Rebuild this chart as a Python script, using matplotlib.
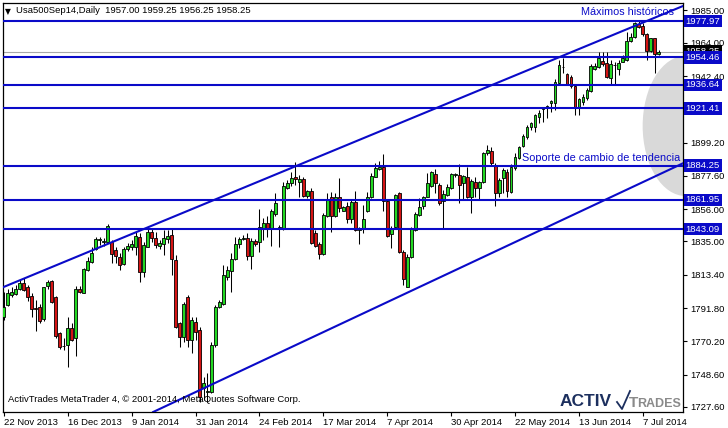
import matplotlib
matplotlib.use('Agg')
import matplotlib.pyplot as plt
import matplotlib.transforms as mtransforms
from matplotlib.patches import Ellipse
from matplotlib.lines import Line2D

plt.rcParams['font.family'] = ['Liberation Sans', 'DejaVu Sans']

# velas diarias
opens = [1785.7, 1793.7, 1800.4, 1800.9, 1803.9, 1808.2, 1805.2, 1799.6, 1791.6, 1792.2,
         1784.4, 1806.1, 1809.3, 1798.7, 1775.3, 1767.0, 1768.0, 1778.6, 1772.1, 1804.3,
         1801.7, 1816.5, 1821.9, 1829.9, 1836.0, 1834.5, 1834.9, 1834.9, 1829.5, 1825.1,
         1820.1, 1829.9, 1831.2, 1831.6, 1838.1, 1815.4, 1831.6, 1841.4, 1837.0, 1832.0,
         1833.1, 1836.4, 1839.4, 1823.0, 1781.8, 1772.7, 1799.1, 1771.0, 1782.9, 1777.5,
         1739.6, 1737.5, 1737.5, 1767.8, 1792.7, 1794.4, 1812.1, 1816.0, 1823.4, 1833.4,
         1836.6, 1837.0, 1825.6, 1835.3, 1834.9, 1842.9, 1847.2, 1843.3, 1852.8, 1844.0,
         1843.5, 1869.5, 1872.7, 1877.1, 1873.8, 1875.4, 1864.5, 1867.8, 1840.7, 1833.4,
         1826.9, 1851.5, 1864.0, 1851.5, 1863.7, 1855.0, 1858.0, 1849.6, 1860.6, 1842.4,
         1842.9, 1855.0, 1863.7, 1877.1, 1881.8, 1883.6, 1861.3, 1839.6, 1844.2, 1866.3,
         1827.9, 1805.6, 1824.7, 1842.4, 1852.2, 1858.0, 1864.1, 1871.2, 1878.6, 1871.7,
         1861.5, 1865.2, 1869.5, 1878.4, 1878.2, 1872.7, 1877.1, 1863.7, 1873.8, 1869.5,
         1873.8, 1892.7, 1894.0, 1884.6, 1866.7, 1876.0, 1880.3, 1867.3, 1882.5, 1889.0,
         1897.0, 1902.6, 1909.1, 1909.1, 1916.0, 1921.3, 1921.4, 1924.7, 1924.7, 1937.7,
         1948.0, 1943.5, 1941.8, 1935.9, 1922.5, 1925.8, 1927.9, 1932.7, 1946.8, 1948.1,
         1952.2, 1950.7, 1941.4, 1949.3, 1947.0, 1951.7, 1952.8, 1965.2, 1968.0, 1976.0,
         1975.1, 1969.5, 1958.7, 1966.9, 1957.00]
highs = [1802.4, 1803.9, 1805.2, 1806.7, 1810.0, 1811.1, 1806.7, 1801.3, 1797.0, 1794.4,
         1805.6, 1810.0, 1810.0, 1799.6, 1776.4, 1772.1, 1785.7, 1781.8, 1806.1, 1806.1,
         1817.5, 1825.1, 1831.6, 1837.7, 1837.7, 1837.0, 1846.3, 1835.9, 1831.6, 1827.3,
         1831.6, 1834.2, 1835.9, 1841.4, 1840.3, 1834.9, 1842.9, 1843.5, 1841.4, 1835.9,
         1842.4, 1842.4, 1842.9, 1826.2, 1782.9, 1795.9, 1800.2, 1786.2, 1786.2, 1779.7,
         1747.2, 1749.4, 1769.9, 1793.7, 1797.0, 1819.7, 1819.1, 1827.3, 1838.1, 1837.7,
         1839.2, 1840.3, 1837.0, 1836.4, 1855.9, 1850.0, 1851.5, 1855.9, 1866.3, 1845.7,
         1873.8, 1874.9, 1880.3, 1886.8, 1878.2, 1877.1, 1868.4, 1869.5, 1842.5, 1834.9,
         1853.3, 1866.3, 1866.8, 1866.7, 1876.0, 1858.0, 1860.8, 1862.3, 1868.0, 1844.2,
         1858.7, 1867.3, 1879.2, 1885.7, 1887.5, 1891.8, 1861.9, 1845.0, 1865.8, 1867.3,
         1829.5, 1826.9, 1844.2, 1854.3, 1863.0, 1864.5, 1879.7, 1880.5, 1881.8, 1872.7,
         1868.4, 1872.3, 1879.7, 1879.7, 1885.3, 1878.2, 1883.6, 1875.3, 1877.1, 1874.5,
         1893.3, 1897.6, 1896.1, 1885.7, 1876.0, 1882.5, 1881.8, 1885.3, 1892.2, 1897.0,
         1904.6, 1910.6, 1912.8, 1917.8, 1920.4, 1922.5, 1923.6, 1926.9, 1940.3, 1952.8,
         1953.9, 1944.2, 1943.1, 1936.6, 1928.4, 1930.5, 1934.4, 1950.0, 1950.7, 1958.2,
         1958.2, 1958.2, 1952.8, 1951.7, 1952.8, 1956.1, 1971.2, 1970.1, 1977.7, 1978.2,
         1976.6, 1970.1, 1967.3, 1967.3, 1959.25]
lows = [1784.0, 1793.1, 1798.7, 1800.4, 1803.5, 1802.6, 1796.6, 1785.7, 1777.1, 1782.3,
        1783.6, 1804.3, 1794.8, 1772.3, 1765.4, 1764.5, 1753.7, 1770.6, 1760.6, 1801.3,
        1801.3, 1816.0, 1820.8, 1829.5, 1832.9, 1832.0, 1833.8, 1821.2, 1820.8, 1816.5,
        1819.7, 1829.0, 1829.5, 1826.2, 1808.9, 1811.7, 1831.2, 1834.9, 1830.5, 1829.9,
        1826.2, 1834.2, 1813.2, 1778.6, 1766.7, 1769.9, 1766.7, 1762.8, 1771.0, 1731.0,
        1732.0, 1731.0, 1736.4, 1766.7, 1791.6, 1793.7, 1810.0, 1802.4, 1823.0, 1830.5,
        1835.9, 1823.0, 1816.9, 1832.1, 1828.4, 1835.9, 1838.1, 1832.1, 1851.5, 1831.6,
        1842.5, 1868.9, 1871.0, 1871.7, 1864.1, 1863.7, 1863.4, 1833.4, 1831.6, 1823.4,
        1826.2, 1850.7, 1841.4, 1850.7, 1854.3, 1854.8, 1846.8, 1847.2, 1842.0, 1833.1,
        1840.7, 1854.3, 1863.2, 1876.6, 1881.4, 1855.0, 1838.1, 1830.5, 1843.5, 1827.7,
        1806.7, 1805.2, 1824.0, 1842.0, 1851.5, 1855.9, 1863.7, 1870.6, 1866.3, 1858.7,
        1843.5, 1864.5, 1868.8, 1877.1, 1859.8, 1862.4, 1863.0, 1853.7, 1864.1, 1862.8,
        1872.7, 1891.1, 1884.6, 1858.0, 1864.1, 1866.3, 1864.1, 1866.3, 1881.4, 1888.3,
        1896.1, 1901.3, 1907.4, 1906.3, 1912.1, 1912.8, 1914.9, 1919.3, 1920.4, 1936.6,
        1944.2, 1936.6, 1934.4, 1917.1, 1917.1, 1923.6, 1926.9, 1931.8, 1946.3, 1947.4,
        1949.1, 1940.9, 1936.6, 1936.6, 1943.1, 1951.3, 1952.2, 1964.3, 1967.3, 1973.8,
        1968.6, 1952.8, 1958.2, 1944.2, 1956.25]
closes = [1792.7, 1801.3, 1802.2, 1804.1, 1808.2, 1803.5, 1799.2, 1790.9, 1791.2, 1783.1,
          1805.2, 1808.7, 1795.9, 1773.6, 1766.3, 1767.3, 1778.6, 1771.0, 1803.9, 1802.0,
          1816.9, 1822.3, 1827.7, 1836.4, 1836.3, 1835.0, 1845.3, 1826.6, 1825.6, 1819.7,
          1829.9, 1832.0, 1833.3, 1838.5, 1815.4, 1832.7, 1841.4, 1837.0, 1832.7, 1834.2,
          1837.0, 1838.5, 1823.4, 1779.7, 1773.2, 1794.4, 1771.0, 1784.0, 1776.4, 1734.2,
          1742.9, 1737.8, 1767.8, 1792.7, 1795.9, 1813.2, 1816.5, 1823.4, 1833.1, 1836.4,
          1837.2, 1825.6, 1835.5, 1833.1, 1844.2, 1847.2, 1843.5, 1854.8, 1860.2, 1844.6,
          1871.0, 1873.2, 1876.0, 1875.8, 1875.6, 1864.5, 1867.8, 1834.2, 1832.1, 1826.9,
          1852.2, 1862.4, 1851.3, 1863.7, 1856.5, 1857.6, 1849.6, 1860.8, 1842.4, 1842.8,
          1849.6, 1863.7, 1877.5, 1882.5, 1883.6, 1861.5, 1838.8, 1843.9, 1865.2, 1828.4,
          1810.4, 1825.1, 1842.9, 1852.8, 1857.6, 1863.7, 1872.7, 1879.9, 1872.7, 1859.7,
          1865.8, 1870.6, 1878.6, 1878.8, 1871.7, 1877.5, 1863.7, 1874.5, 1869.5, 1873.8,
          1892.7, 1894.4, 1885.7, 1866.3, 1874.9, 1881.4, 1868.0, 1883.6, 1889.6, 1896.1,
          1903.7, 1909.1, 1911.7, 1917.1, 1918.6, 1921.7, 1922.9, 1926.2, 1938.8, 1949.6,
          1948.5, 1937.0, 1935.9, 1922.5, 1927.5, 1929.0, 1933.3, 1948.9, 1948.9, 1953.9,
          1950.2, 1941.6, 1950.0, 1949.6, 1950.7, 1953.9, 1965.2, 1968.0, 1976.6, 1974.5,
          1969.5, 1958.7, 1966.9, 1956.5, 1958.25]

date_labels = ['22 Nov 2013', '16 Dec 2013', '9 Jan 2014', '31 Jan 2014', '24 Feb 2014',
               '17 Mar 2014', '7 Apr 2014', '30 Apr 2014', '22 May 2014', '13 Jun 2014',
               '7 Jul 2014']
price_ticks = [1985.00, 1964.00, 1942.40, 1899.20, 1877.60, 1856.00, 1835.00, 1813.40,
               1791.80, 1770.20, 1748.60, 1727.60]
levels = [1977.97, 1954.46, 1936.64, 1921.41, 1884.25, 1861.95, 1843.09]
last_price = 1958.25

# lineas de canal (dos puntos cada una)
upper_pts = [(0, 1805.5), (170, 1987.8)]
lower_pts = [(42.9, 1731.0), (170, 1885.7)]

blue = '#0a0ac8'
green = '#22d822'
red = '#d41414'

fig = plt.figure(figsize=(7.28, 4.28), dpi=100)
ax = fig.add_axes([3 / 728, 16 / 428, 680 / 728, 409 / 428])

n = len(closes)
xs = list(range(n))

# zona gris
ax.add_patch(Ellipse((170.7, 1910.0), 21.5, 91, fc='#d9d9d9', ec='none', zorder=0))

# velas
ax.vlines(xs, lows, highs, color='black', lw=0.75, zorder=2)
bottoms = [min(o, c) for o, c in zip(opens, closes)]
heights = [max(abs(c - o), 0.05) for o, c in zip(opens, closes)]
colors = [green if c >= o else red for o, c in zip(opens, closes)]
ax.bar(xs, heights, bottom=bottoms, width=0.72, color=colors, edgecolor='black',
       linewidth=0.6, zorder=3)

# precio actual
ax.axhline(last_price, color='#a8a8a8', lw=0.8, zorder=1)

# niveles horizontales
for lv in levels:
    ax.axhline(lv, color=blue, lw=1.5, zorder=4)

# canal
ax.axline(upper_pts[0], upper_pts[1], color=blue, lw=1.5, zorder=4)
ax.axline(lower_pts[0], lower_pts[1], color=blue, lw=1.5, zorder=4)

ax.set_xlim(-0.2, 170.05)
ax.set_ylim(1724.3, 1989.8)

# ejes
ax.yaxis.tick_right()
ax.set_yticks(price_ticks)
ax.set_yticklabels(['%.2f' % v for v in price_ticks])
ax.set_xticks(list(range(0, 161, 16)))
ax.set_xticklabels(date_labels, ha='left')
ax.tick_params(axis='y', length=3, width=0.8, pad=2, labelsize=6.8)
ax.tick_params(axis='x', length=3, width=0.8, pad=1, labelsize=6.8)
for s in ax.spines.values():
    s.set_linewidth(0.9)

trans = mtransforms.blended_transform_factory(ax.transAxes, ax.transData)
ax.text(1.004, last_price, '%.2f' % last_price, transform=trans, color='white',
        fontsize=6.8, va='center', ha='left', zorder=6, clip_on=False,
        bbox=dict(boxstyle='square,pad=0.18', fc='black', ec='none'))
for lv in levels:
    ax.text(1.004, lv, '%.2f' % lv, transform=trans, color='white', fontsize=6.8,
            va='center', ha='left', zorder=7, clip_on=False,
            bbox=dict(boxstyle='square,pad=0.18', fc=blue, ec='none'))

# textos
ax.text(167.7, 1984.0, 'Máximos históricos', color=blue, fontsize=7.8,
        ha='right', va='center', zorder=8)
ax.text(169.4, 1889.2, 'Soporte de cambio de tendencia', color=blue, fontsize=7.8,
        ha='right', va='center', zorder=8)
ax.text(0.003, 0.99, '\u25bc', transform=ax.transAxes, fontsize=5.5, ha='left', va='top',
        family='DejaVu Sans')
ax.text(0.019, 0.993, 'Usa500Sep14,Daily  1957.00 1959.25 1956.25 1958.25',
        transform=ax.transAxes, fontsize=6.8, ha='left', va='top')
ax.text(0.008, 0.03, 'ActivTrades MetaTrader 4, \u00a9 2001-2014, MetaQuotes Software Corp.',
        transform=ax.transAxes, fontsize=6.8, ha='left', va='center', zorder=8)

# logo
fig.text(560 / 728, 1 - 402 / 428, 'ACTIV', color='#1c2f5e', fontsize=12.5,
         fontweight='bold', ha='left', va='center')
fig.text(629 / 728, 1 - 403 / 428, 'T', color='#8a8a8a', fontsize=11,
         fontweight='bold', ha='left', va='center')
fig.text(637 / 728, 1 - 404 / 428, 'RADES', color='#8a8a8a', fontsize=9,
         fontweight='bold', ha='left', va='center')
fig.add_artist(Line2D([617 / 728, 622 / 728, 630 / 728],
                      [1 - 402 / 428, 1 - 409 / 428, 1 - 391 / 428],
                      transform=fig.transFigure, color='#1c2f5e', lw=1.3))

fig.savefig('out.png', dpi=100)
